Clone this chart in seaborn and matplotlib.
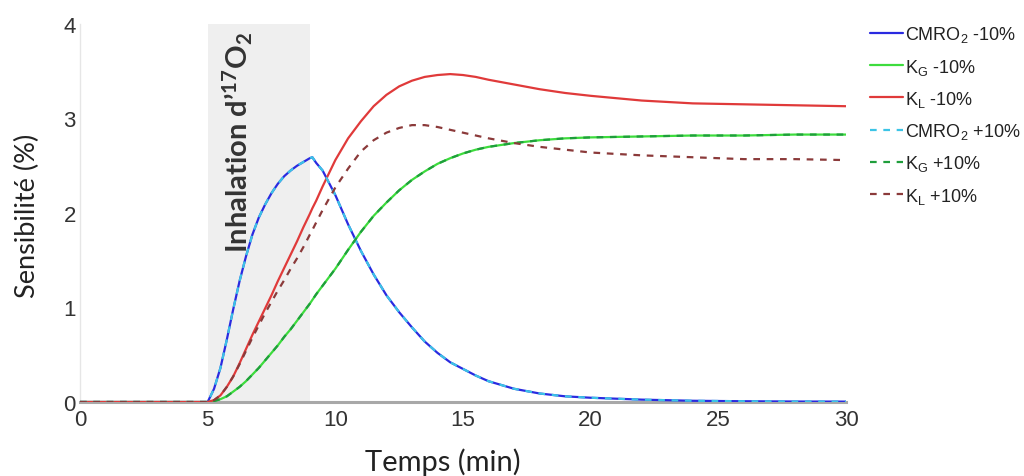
import matplotlib
matplotlib.use("Agg")
import matplotlib.pyplot as plt
import seaborn as sns
import pandas as pd

# ---- data ----
temps = [0, 5, 5.25, 5.5, 5.75, 6, 6.25, 6.5, 6.75, 7, 7.25, 7.5, 7.75, 8, 8.25, 8.5, 8.75, 9,
         9.1, 9.25, 9.5, 9.75, 10, 10.5, 11, 11.5, 12, 12.5, 13, 13.5, 14, 14.5, 15, 15.5, 16,
         17, 18, 19, 20, 22, 24, 26, 28, 30]

cmro2_m10 = [0, 0, 0.14, 0.36, 0.66, 0.98, 1.28, 1.54, 1.77, 1.95, 2.09, 2.21, 2.31, 2.39, 2.45,
             2.50, 2.54, 2.58, 2.59, 2.53, 2.45, 2.32, 2.19, 1.88, 1.60, 1.35, 1.13, 0.95, 0.79,
             0.64, 0.52, 0.42, 0.35, 0.28, 0.22, 0.14, 0.09, 0.06, 0.045, 0.025, 0.013, 0.008,
             0.005, 0.004]
kg_m10 = [0, 0, 0.01, 0.03, 0.06, 0.11, 0.16, 0.22, 0.29, 0.36, 0.44, 0.52, 0.60, 0.69, 0.77,
          0.86, 0.95, 1.04, 1.08, 1.14, 1.23, 1.32, 1.41, 1.61, 1.80, 1.97, 2.11, 2.24, 2.35,
          2.44, 2.52, 2.58, 2.63, 2.67, 2.70, 2.74, 2.77, 2.79, 2.80, 2.81, 2.82, 2.82, 2.83, 2.83]
kl_m10 = [0, 0, 0.02, 0.07, 0.16, 0.27, 0.41, 0.56, 0.71, 0.85, 0.99, 1.13, 1.28, 1.42, 1.56,
          1.70, 1.85, 1.99, 2.05, 2.13, 2.28, 2.42, 2.56, 2.79, 2.97, 3.13, 3.25, 3.34, 3.40,
          3.44, 3.46, 3.47, 3.46, 3.44, 3.41, 3.36, 3.31, 3.27, 3.24, 3.19, 3.16, 3.15, 3.14, 3.13]
cmro2_p10 = [0, 0, 0.14, 0.36, 0.66, 0.98, 1.28, 1.54, 1.77, 1.95, 2.09, 2.21, 2.31, 2.39, 2.45,
             2.50, 2.54, 2.58, 2.59, 2.53, 2.45, 2.32, 2.19, 1.88, 1.60, 1.35, 1.13, 0.95, 0.79,
             0.64, 0.52, 0.42, 0.35, 0.28, 0.22, 0.14, 0.09, 0.06, 0.045, 0.025, 0.013, 0.008,
             0.005, 0.004]
kg_p10 = [0, 0, 0.01, 0.03, 0.06, 0.11, 0.16, 0.22, 0.29, 0.36, 0.44, 0.52, 0.60, 0.69, 0.77,
          0.86, 0.95, 1.04, 1.08, 1.14, 1.23, 1.32, 1.41, 1.61, 1.80, 1.97, 2.11, 2.24, 2.35,
          2.44, 2.52, 2.58, 2.63, 2.67, 2.70, 2.74, 2.77, 2.79, 2.80, 2.81, 2.82, 2.82, 2.83, 2.83]
kl_p10 = [0, 0, 0.02, 0.07, 0.16, 0.27, 0.40, 0.54, 0.68, 0.81, 0.94, 1.06, 1.18, 1.29, 1.41,
          1.52, 1.64, 1.77, 1.82, 1.90, 2.03, 2.15, 2.27, 2.47, 2.65, 2.77, 2.85, 2.90, 2.93,
          2.93, 2.91, 2.88, 2.85, 2.82, 2.79, 2.74, 2.70, 2.67, 2.64, 2.61, 2.59, 2.57, 2.57, 2.56]

labels = ["CMRO$_\\mathrm{2}$ -10%", "K$_\\mathrm{G}$ -10%", "K$_\\mathrm{L}$ -10%",
          "CMRO$_\\mathrm{2}$ +10%", "K$_\\mathrm{G}$ +10%", "K$_\\mathrm{L}$ +10%"]
inhal_start, inhal_end = 5, 9
x_ticks = [0, 5, 10, 15, 20, 25, 30]
y_ticks = [0, 1, 2, 3, 4]

# ---- style ----
sns.set_theme(style="white")
plt.rcParams["font.family"] = ["Liberation Sans", "DejaVu Sans"]
plt.rcParams["mathtext.fontset"] = "custom"
plt.rcParams["mathtext.rm"] = "Liberation Sans"
plt.rcParams["mathtext.it"] = "Liberation Sans:italic"
plt.rcParams["mathtext.bf"] = "Lato:bold"

series = [cmro2_m10, kg_m10, kl_m10, cmro2_p10, kg_p10, kl_p10]
colors = ["#2a2ae0", "#3ddc3d", "#e03a3a", "#3cc4e6", "#1f9e3c", "#8b3a3a"]
styles = ["-", "-", "-", (0, (3, 3)), (0, (3, 3)), (0, (3, 3))]

fig = plt.figure(figsize=(10.24, 4.77), dpi=100)
ax = fig.add_axes([80 / 1024, 1 - 403 / 477, (846 - 80) / 1024, (403 - 25) / 477])

ax.axvspan(inhal_start, inhal_end, ymin=0, ymax=1, color="#efefef", zorder=0, lw=0)

for vals, lab, c, ls in zip(series, labels, colors, styles):
    df = pd.DataFrame({"t": temps, "v": vals})
    sns.lineplot(data=df, x="t", y="v", ax=ax, color=c, linestyle=ls, linewidth=1.6,
                 label=lab, zorder=3)

ax.set_xlim(0, 30)
ax.set_ylim(0, 4)
ax.set_xticks(x_ticks)
ax.set_yticks(y_ticks)
ax.tick_params(axis="both", direction="in", length=5, width=0.8, color="#9a9a9a",
               labelsize=16, labelcolor="#333333")
ax.tick_params(axis="x", pad=5)
ax.tick_params(axis="y", pad=3)

for s in ["top", "right"]:
    ax.spines[s].set_visible(False)
ax.spines["left"].set_color("#e6e6e6")
ax.spines["left"].set_linewidth(1.0)
ax.spines["bottom"].set_color("#a8a8a8")
ax.spines["bottom"].set_linewidth(2.2)

ax.set_xlabel("Temps (min)", fontsize=21, family="Lato", color="#222222")
ax.set_ylabel("Sensibilité (%)", fontsize=19.5, family="Lato", color="#222222")
ax.xaxis.set_label_coords((443 - 80) / 766, (403 - 462) / 378)
ax.yaxis.set_label_coords((27 - 80) / 766, (403 - 216) / 378)
ax.xaxis.label.set_va("center")
ax.yaxis.label.set_va("center")

ax.text(6.2, 3.93, "Inhalation d’$\\mathbf{^{17}O_2}$", rotation=90, ha="center", va="top",
        fontsize=21, family="Lato", fontweight="bold", color="#333333", zorder=4)

leg = ax.legend(loc="upper left", bbox_to_anchor=(863 / 1024, 1 - 18 / 477),
                bbox_transform=fig.transFigure, frameon=False, fontsize=13,
                handlelength=1.8, handletextpad=0.15, labelspacing=0.68, borderaxespad=0)
for t in leg.get_texts():
    t.set_color("#222222")

fig.savefig("out.png", dpi=100)
